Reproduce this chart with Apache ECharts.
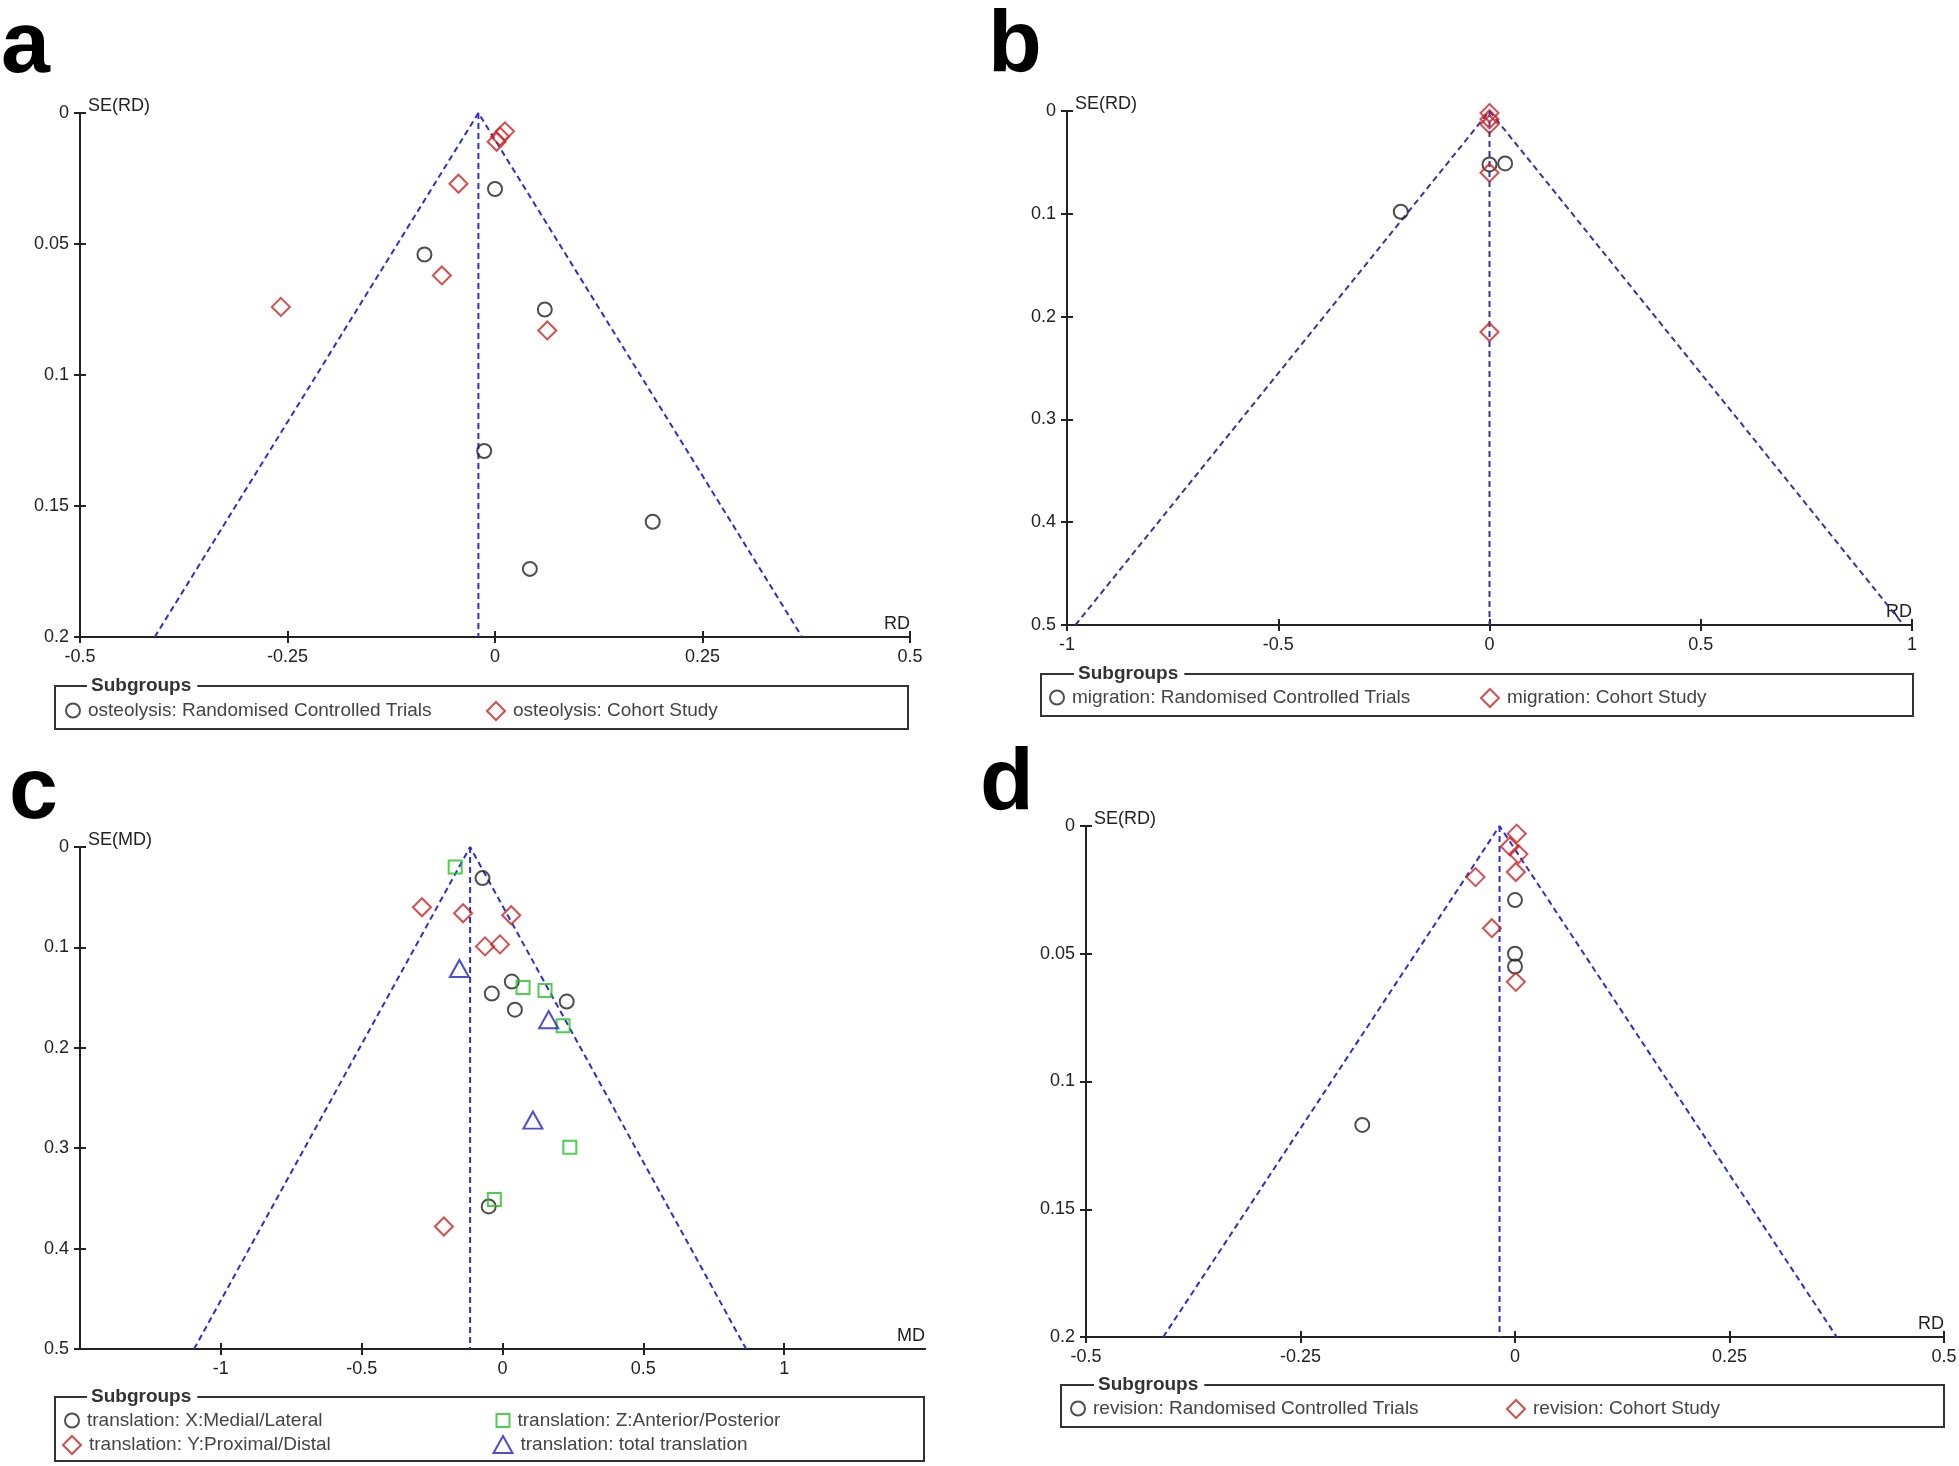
<!DOCTYPE html>
<html><head><meta charset="utf-8">
<script src="https://cdn.jsdelivr.net/npm/echarts@6/dist/echarts.min.js"></script>
<style>html,body{margin:0;padding:0;background:#fff}#chart{width:1959px;height:1466px}</style>
</head><body><div id="chart"></div>
<script>
// ---------- DATA ----------
// Panel a: osteolysis (RD vs SE(RD))
const aRctRD = [0.0, -0.085, 0.06, -0.013, 0.19, 0.042];
const aRctSE = [0.029, 0.054, 0.075, 0.129, 0.156, 0.174];
const aCohRD = [0.012, 0.006, 0.002, -0.044, -0.064, -0.258, 0.063];
const aCohSE = [0.007, 0.009, 0.011, 0.027, 0.062, 0.074, 0.083];
const aPooled = -0.02;
const aFunnelBase = [-0.41, 0.37];
const aXTicks = [-0.5, -0.25, 0, 0.25, 0.5];
const aYTicks = [0, 0.05, 0.1, 0.15, 0.2];

// Panel b: migration
const bRctRD = [-0.21, 0.0, 0.037];
const bRctSE = [0.098, 0.052, 0.051];
const bCohRD = [0, 0, 0, 0, 0];
const bCohSE = [0.002, 0.008, 0.013, 0.060, 0.215];
const bPooled = 0;
const bFunnelBase = [-0.98, 0.98];
const bXTicks = [-1, -0.5, 0, 0.5, 1];
const bYTicks = [0, 0.1, 0.2, 0.3, 0.4, 0.5];

// Panel c: translation (MD vs SE(MD))
const cXMD = [-0.071, 0.033, -0.038, 0.228, 0.044, -0.049];
const cXSE = [0.031, 0.134, 0.146, 0.154, 0.162, 0.358];
const cYMD = [-0.286, -0.14, 0.031, -0.062, -0.009, -0.208];
const cYSE = [0.060, 0.066, 0.068, 0.099, 0.097, 0.378];
const cZMD = [-0.168, 0.073, 0.151, 0.215, 0.239, -0.029];
const cZSE = [0.020, 0.140, 0.143, 0.178, 0.299, 0.351];
const cTMD = [-0.153, 0.164, 0.108];
const cTSE = [0.121, 0.172, 0.272];
const cPooled = -0.115;
const cFunnelBase = [-1.095, 0.865];
const cXTicks = [-1, -0.5, 0, 0.5, 1];
const cYTicks = [0, 0.1, 0.2, 0.3, 0.4, 0.5];

// Panel d: revision
const dRctRD = [0, 0, 0, -0.178];
const dRctSE = [0.029, 0.050, 0.055, 0.117];
const dCohRD = [0.002, -0.006, 0.004, 0.001, -0.046, -0.027, 0.001];
const dCohSE = [0.003, 0.008, 0.011, 0.018, 0.020, 0.040, 0.061];
const dPooled = -0.018;
const dFunnelBase = [-0.41, 0.375];
const dXTicks = [-0.5, -0.25, 0, 0.25, 0.5];
const dYTicks = [0, 0.05, 0.1, 0.15, 0.2];

// ---------- BUILD ----------
const FONT = '"Liberation Sans", Arial, sans-serif';
const zip = (xs, ys) => xs.map((x, i) => [x, ys[i]]);

const panels = [
  { letter: 'a', letterPos: [1, 48], grid: { left: 80, top: 113, width: 830, height: 524 },
    xMin: -0.5, xMax: 0.5, yMax: 0.2, xTicks: aXTicks, yTicks: aYTicks, xName: 'RD', yName: 'SE(RD)',
    pooled: aPooled, base: aFunnelBase, funnelColor: '#2d2dd6',
    groups: [
      { name: 'osteolysis: Randomised Controlled Trials', data: zip(aRctRD, aRctSE), shape: 'circle' },
      { name: 'osteolysis: Cohort Study', data: zip(aCohRD, aCohSE), shape: 'diamond' }],
    box: [55, 686, 853, 43], sub: [87, 686],
    legendPos: [[72, 709], [495, 709]] },
  { letter: 'b', letterPos: [988, 47], grid: { left: 1067, top: 111, width: 845, height: 514 },
    xMin: -1, xMax: 1, yMax: 0.5, xTicks: bXTicks, yTicks: bYTicks, xName: 'RD', yName: 'SE(RD)',
    pooled: bPooled, base: bFunnelBase, funnelColor: '#3434a6',
    groups: [
      { name: 'migration: Randomised Controlled Trials', data: zip(bRctRD, bRctSE), shape: 'circle' },
      { name: 'migration: Cohort Study', data: zip(bCohRD, bCohSE), shape: 'diamond' }],
    box: [1041, 674, 872, 42], sub: [1074, 674],
    legendPos: [[1056, 696], [1489, 696]] },
  { letter: 'c', letterPos: [9, 794], grid: { left: 80, top: 847, width: 845, height: 502 },
    xMin: -1.5, xMax: 1.5, yMax: 0.5, xTicks: cXTicks, yTicks: cYTicks, xName: 'MD', yName: 'SE(MD)',
    pooled: cPooled, base: cFunnelBase, funnelColor: '#2d2dd6',
    groups: [
      { name: 'translation: X:Medial/Lateral', data: zip(cXMD, cXSE), shape: 'circle' },
      { name: 'translation: Y:Proximal/Distal', data: zip(cYMD, cYSE), shape: 'diamond' },
      { name: 'translation: Z:Anterior/Posterior', data: zip(cZMD, cZSE), shape: 'rect' },
      { name: 'translation: total translation', data: zip(cTMD, cTSE), shape: 'triangle' }],
    box: [55, 1397, 869, 64], sub: [87, 1397],
    legendPos: [[71, 1419], [71, 1443], [502, 1419], [502, 1443]] },
  { letter: 'd', letterPos: [980, 785], grid: { left: 1086, top: 826, width: 858, height: 511 },
    xMin: -0.5, xMax: 0.5, yMax: 0.2, xTicks: dXTicks, yTicks: dYTicks, xName: 'RD', yName: 'SE(RD)',
    pooled: dPooled, base: dFunnelBase, funnelColor: '#2d2dd6',
    groups: [
      { name: 'revision: Randomised Controlled Trials', data: zip(dRctRD, dRctSE), shape: 'circle' },
      { name: 'revision: Cohort Study', data: zip(dCohRD, dCohSE), shape: 'diamond' }],
    box: [1061, 1385, 883, 42], sub: [1094, 1385],
    legendPos: [[1077, 1407], [1515, 1407]] }
];

const shapeStyle = {
  circle:   { symbol: 'circle',   size: 14, color: '#222222' },
  diamond:  { symbol: 'diamond',  size: 18, color: '#d01f1f' },
  rect:     { symbol: 'rect',     size: 13, color: '#22c322' },
  triangle: { symbol: 'triangle', size: [19, 17], color: '#1f1fcc' }
};

const grids = [], xAxes = [], yAxes = [], series = [], legends = [], graphics = [];
const axisColor = '#222';
const labelStyle = { fontSize: 18, color: '#222', fontFamily: FONT };

panels.forEach((p, i) => {
  grids.push(Object.assign({ outerBoundsMode: 'none', containLabel: false }, p.grid));
  xAxes.push({
    gridIndex: i, type: 'value', position: 'bottom', min: p.xMin, max: p.xMax,
    axisLine: { show: true, onZero: false, lineStyle: { color: axisColor, width: 2 } },
    axisTick: { show: true, inside: true, length: 6, customValues: p.xTicks, lineStyle: { color: axisColor, width: 2 } },
    axisLabel: Object.assign({ customValues: p.xTicks, margin: 11 }, labelStyle),
    splitLine: { show: false },
    name: p.xName, nameLocation: 'end', nameGap: 0,
    nameTextStyle: { fontSize: 18, color: '#222', fontFamily: FONT, align: 'right', verticalAlign: 'bottom', padding: [0, 0, 4, 0] }
  });
  xAxes.push({
    gridIndex: i, type: 'value', position: 'bottom', min: p.xMin, max: p.xMax,
    axisLine: { show: true, onZero: false, lineStyle: { color: axisColor, width: 2 } },
    axisTick: { show: true, inside: false, length: 6, customValues: p.xTicks, lineStyle: { color: axisColor, width: 2 } },
    axisLabel: { show: false }, splitLine: { show: false }
  });
  yAxes.push({
    gridIndex: i, type: 'value', position: 'left', inverse: true, min: 0, max: p.yMax,
    axisLine: { show: true, onZero: false, lineStyle: { color: axisColor, width: 2 } },
    axisTick: { show: true, inside: true, length: 6, customValues: p.yTicks, lineStyle: { color: axisColor, width: 2 } },
    axisLabel: Object.assign({ customValues: p.yTicks, margin: 11 }, labelStyle),
    splitLine: { show: false },
    name: p.yName, nameLocation: 'start', nameGap: -2,
    nameTextStyle: { fontSize: 18, color: '#222', fontFamily: FONT, align: 'left', verticalAlign: 'bottom', padding: [0, 0, 0, 8] }
  });
  yAxes.push({
    gridIndex: i, type: 'value', position: 'left', inverse: true, min: 0, max: p.yMax,
    axisLine: { show: true, onZero: false, lineStyle: { color: axisColor, width: 2 } },
    axisTick: { show: true, inside: false, length: 6, customValues: p.yTicks, lineStyle: { color: axisColor, width: 2 } },
    axisLabel: { show: false }, splitLine: { show: false }
  });

  const xi = 2 * i, yi = 2 * i;
  const dash = { color: p.funnelColor, width: 2, type: [6, 4] };
  series.push({
    type: 'line', xAxisIndex: xi, yAxisIndex: yi, silent: true, symbol: 'none', animation: false,
    data: [[p.base[0], p.yMax], [p.pooled, 0], [p.base[1], p.yMax]], lineStyle: dash, z: 1
  });
  series.push({
    type: 'line', xAxisIndex: xi, yAxisIndex: yi, silent: true, symbol: 'none', animation: false,
    data: [[p.pooled, 0], [p.pooled, p.yMax]], lineStyle: dash, z: 1
  });

  p.groups.forEach((g, k) => {
    const s = shapeStyle[g.shape];
    series.push({
      name: g.name, type: 'scatter', xAxisIndex: xi, yAxisIndex: yi, animation: false,
      symbol: s.symbol, symbolSize: s.size, data: g.data, z: 3,
      itemStyle: { color: 'rgba(0,0,0,0)', borderColor: s.color, borderWidth: 2 }
    });
    const w = Array.isArray(s.size) ? s.size[0] : s.size;
    const h = Array.isArray(s.size) ? s.size[1] : s.size;
    const pos = p.legendPos[k];
    legends.push({
      data: [g.name], left: pos[0] - w / 2, top: pos[1] - 8, padding: 0,
      itemWidth: w, itemHeight: h, itemGap: 0, selectedMode: false,
      itemStyle: { borderWidth: 2 },
      textStyle: { fontSize: 19, color: '#444', fontFamily: FONT, padding: [0, 0, 0, 3] }
    });
  });

  graphics.push({
    type: 'rect', shape: { x: p.box[0], y: p.box[1], width: p.box[2], height: p.box[3] },
    style: { fill: 'none', stroke: '#333', lineWidth: 2 }, z: 0
  });
  graphics.push({
    type: 'text', x: p.sub[0], y: p.sub[1], z: 2,
    style: { text: 'Subgroups', font: 'bold 19px ' + FONT, fill: '#333', align: 'left', verticalAlign: 'middle',
             backgroundColor: '#fff', padding: [0, 6, 0, 4] }
  });
  graphics.push({
    type: 'text', x: p.letterPos[0], y: p.letterPos[1], z: 2,
    style: { text: p.letter, font: 'bold 88px ' + FONT, fill: '#000', align: 'left', verticalAlign: 'middle' }
  });
});

const chart = echarts.init(document.getElementById('chart'), null, { renderer: 'canvas' });
chart.setOption({
  backgroundColor: '#fff',
  animation: false,
  grid: grids, xAxis: xAxes, yAxis: yAxes, series: series,
  legend: legends, graphic: graphics
});
</script></body></html>
